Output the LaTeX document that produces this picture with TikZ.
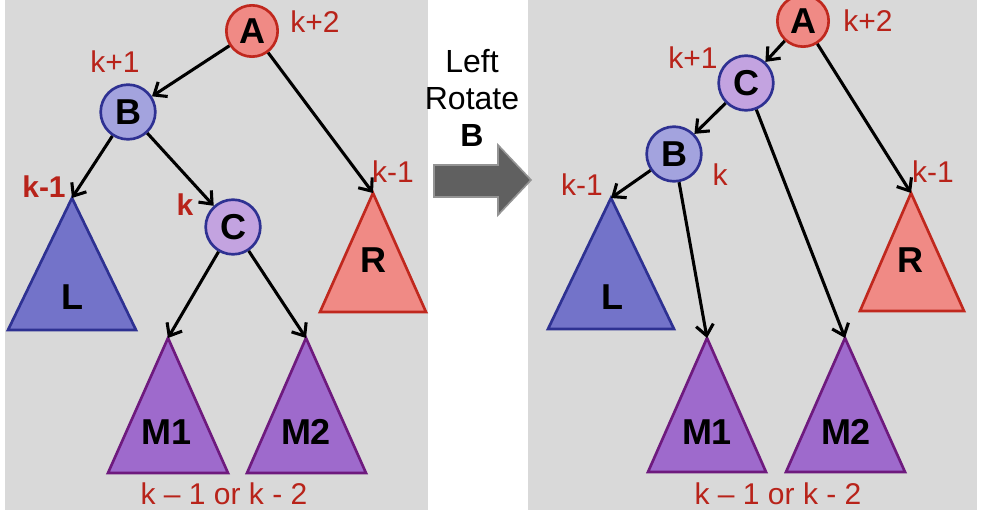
\documentclass[tikz,border=0pt]{standalone}
\usepackage{fontspec}
\setmainfont{Liberation Sans}
\usetikzlibrary{arrows.meta,positioning}
\definecolor{panelgray}{HTML}{D9D9D9}
\definecolor{htred}{HTML}{B8231A}
\definecolor{redline}{HTML}{C0281E}
\definecolor{salmon}{HTML}{F08A85}
\definecolor{navy}{HTML}{2E3192}
\definecolor{bfill}{HTML}{A3A3DE}
\definecolor{cfill}{HTML}{C3A3E0}
\definecolor{lfill}{HTML}{7373C9}
\definecolor{mfill}{HTML}{9E6ACC}
\definecolor{mline}{HTML}{6E1A7E}
\definecolor{bigarrow}{HTML}{606060}

\begin{document}
\begin{tikzpicture}[
  x=0.75pt, y=-0.75pt,
  font=\fontsize{22.5}{27}\selectfont,
  ht/.style={text=htred, inner sep=0pt},
  vtx/.style={circle, draw=navy, line width=2pt, inner sep=0pt, minimum size=41pt, font=\fontsize{27}{30}\selectfont\bfseries},
  avtx/.style={vtx, draw=redline, fill=salmon, minimum size=38.5pt},
  bvtx/.style={vtx, fill=bfill},
  cvtx/.style={vtx, fill=cfill},
  sub/.style={line width=2pt, line join=miter},
  lsub/.style={sub, draw=navy, fill=lfill},
  rsub/.style={sub, draw=redline, fill=salmon},
  msub/.style={sub, draw=mline, fill=mfill},
  tname/.style={font=\fontsize{27}{30}\selectfont\bfseries, inner sep=0pt},
  edge/.style={line width=2.3pt, -{Straight Barb[length=2.8mm, width=4.6mm]}}
]
\useasboundingbox (0,0) rectangle (994,516);
\fill[panelgray] (5,0) rectangle (428,510);
\fill[panelgray] (528,0) rectangle (977,510);

% before the rotation
\draw[lsub] (72,198) coordinate (L1top) -- (136,330) -- (8,330) -- cycle;
\draw[rsub] (373,193) coordinate (R1top) -- (426,312) -- (320,312) -- cycle;
\draw[msub] (168,338) coordinate (M11top) -- (228,473) -- (108,473) -- cycle;
\draw[msub] (306,338) coordinate (M21top) -- (366,473) -- (247,473) -- cycle;
\node[tname] (L1) at (72,297) {L};
\node[tname] (R1) at (373,260) {R};
\node[tname] (M11) at (167,432) {M1};
\node[tname] (M21) at (306,432) {M2};

\node[avtx] (A1) at (252,31) {A};
\node[bvtx] (B1) at (128,112) {B};
\node[cvtx] (C1) at (233,227) {C};

\node[ht] (hA1) at (315,22) {k+2};
\node[ht] (hB1) at (115,62) {k+1};
\node[ht, font=\fontsize{22.5}{27}\selectfont\bfseries] (hC1) at (185,205) {k};
\node[ht, font=\fontsize{22.5}{27}\selectfont\bfseries] (hL1) at (44,187) {k-1};
\node[ht] (hR1) at (393,172) {k-1};
\node[ht] (hM1) at (224,494) {k -- 1 or k - 2};

\draw[edge] (A1) -- (B1);
\draw[edge] (A1) -- (R1top);
\draw[edge] (B1) -- (L1top);
\draw[edge] (B1) -- (C1);
\draw[edge] (C1) -- (M11top);
\draw[edge] (C1) -- (M21top);

% the rotation
\node[align=center, font=\fontsize{24}{28}\selectfont] (rot) at (472,98) {Left\\Rotate\\\textbf{B}};
\draw[fill=bigarrow, draw=black!42, line width=1.2pt]
  (434,165) -- (498,165) -- (498,145) -- (531,180) -- (498,215) -- (498,197) -- (434,197) -- cycle;

% after the rotation
\draw[lsub] (611,198) coordinate (L2top) -- (674,329) -- (548,329) -- cycle;
\draw[rsub] (911,193) coordinate (R2top) -- (964,311) -- (860,311) -- cycle;
\draw[msub] (707,338) coordinate (M12top) -- (766,472) -- (648,472) -- cycle;
\draw[msub] (845,338) coordinate (M22top) -- (905,472) -- (786,472) -- cycle;
\node[tname] (L2) at (612,297) {L};
\node[tname] (R2) at (910,260) {R};
\node[tname] (M12) at (707,432) {M1};
\node[tname] (M22) at (846,432) {M2};

\node[avtx] (A2) at (803,21) {A};
\node[cvtx] (C2) at (746,83) {C};
\node[bvtx] (B2) at (674,154) {B};

\node[ht] (hA2) at (868,21) {k+2};
\node[ht] (hC2) at (693,58) {k+1};
\node[ht] (hB2) at (720,175) {k};
\node[ht] (hL2) at (582,185) {k-1};
\node[ht] (hR2) at (933,172) {k-1};
\node[ht] (hM2) at (778,494) {k -- 1 or k - 2};

\draw[edge] (A2) -- (C2);
\draw[edge] (A2) -- (R2top);
\draw[edge] (C2) -- (B2);
\draw[edge] (C2) -- (M22top);
\draw[edge] (B2) -- (L2top);
\draw[edge] (B2) -- (M12top);
\end{tikzpicture}
\end{document}
